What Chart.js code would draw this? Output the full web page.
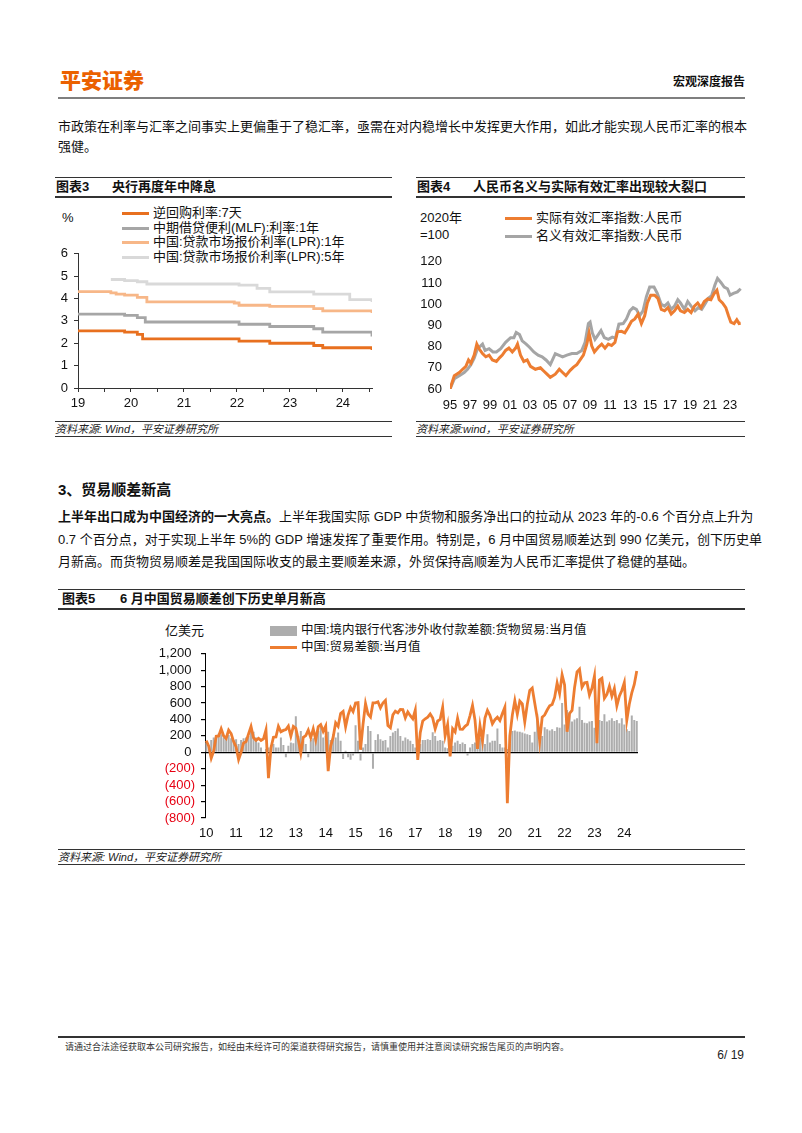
<!DOCTYPE html>
<html lang="zh-CN">
<head>
<meta charset="utf-8">
<title>宏观深度报告</title>
<script src="https://cdn.jsdelivr.net/npm/chart.js@4.4.1/dist/chart.umd.min.js"></script>
<style>
    html, body { margin: 0; padding: 0; background: #fff; }
    body {
        width: 802px; height: 1133px; position: relative; overflow: hidden;
        font-family: "Liberation Sans", Arial, "Noto Sans CJK SC", sans-serif; color: #111;
    }
    .abs { position: absolute; }
    .logo { left: 60px; top: 64px; font-size: 21px; font-weight: 900; color: #EB6100; font-family: "Noto Sans CJK SC", sans-serif; }
    .doctype { right: 57px; top: 72px; font-size: 12px; font-weight: bold; }
    .rule { background: #7f7f7f; height: 2px; }
    .line { left: 58px; width: 687px; font-size: 13px; line-height: 18px; white-space: nowrap; }
    .full { text-align: justify; text-align-last: justify; }
    .h3 { left: 58px; font-size: 15px; font-weight: bold; }
    .title { border-top: 1px solid #333; border-bottom: 2px solid #333; height: 18px; font-size: 13px; font-weight: bold; line-height: 18px; }
    .title span { position: absolute; top: 0; }
    .src { border-top: 1.5px solid #333; border-bottom: 1.5px solid #333; height: 14px; font-size: 11px; font-style: italic; line-height: 14px; color: #222; }
    .unit { font-size: 13px; line-height: 17px; color: #111; }
    .legend { font-size: 12.5px; color: #111; }
    .legend .row { position: relative; height: 14.7px; line-height: 14.7px; white-space: nowrap; }
    .legend .mark { display: inline-block; vertical-align: middle; margin-right: 4px; }
    #reerLegend .row { height: 18px; line-height: 18px; }
    #tradeLegend .row { height: 17px; line-height: 17px; }
    canvas { position: absolute; }
    .foot { left: 65px; top: 1040px; font-size: 9px; color: #333; }
    .page { right: 58px; top: 1048px; font-size: 12px; color: #222; }
</style>
</head>
<body>

<div class="abs logo">平安证券</div>
<div class="abs doctype">宏观深度报告</div>
<div class="abs rule" style="left:58px;top:97px;width:687px;"></div>

<div class="abs line full" style="top:118px;">市政策在利率与汇率之间事实上更偏重于了稳汇率，亟需在对内稳增长中发挥更大作用，如此才能实现人民币汇率的根本</div>
<div class="abs line" style="top:138px;">强健。</div>

<!-- chart 3 -->
<div class="abs title" style="left:55px;top:177px;width:337px;"><span style="left:1px;">图表3</span><span style="left:57px;">央行再度年中降息</span></div>
<div class="abs unit" style="left:62px;top:209px;">%</div>
<div class="abs legend" id="rateLegend" style="left:122px;top:206px;font-size:13px;"></div>
<div class="abs src" style="left:55px;top:421px;width:337px;">资料来源: Wind，平安证券研究所</div>

<!-- chart 4 -->
<div class="abs title" style="left:416px;top:177px;width:329px;"><span style="left:1px;">图表4</span><span style="left:57px;">人民币名义与实际有效汇率出现较大裂口</span></div>
<div class="abs unit" style="left:420px;top:209px;">2020年<br>=100</div>
<div class="abs legend" id="reerLegend" style="left:505px;top:209px;font-size:13px;"></div>
<div class="abs src" style="left:416px;top:421px;width:329px;">资料来源:wind，平安证券研究所</div>

<div class="abs h3" style="top:478px;">3、贸易顺差新高</div>
<div class="abs line full" style="top:508px;"><b>上半年出口成为中国经济的一大亮点。</b>上半年我国实际 GDP 中货物和服务净出口的拉动从 2023 年的-0.6 个百分点上升为</div>
<div class="abs line full" style="top:531px;">0.7 个百分点，对于实现上半年 5%的 GDP 增速发挥了重要作用。特别是，6 月中国贸易顺差达到 990 亿美元，创下历史单</div>
<div class="abs line" style="top:553px;">月新高。而货物贸易顺差是我国国际收支的最主要顺差来源，外贸保持高顺差为人民币汇率提供了稳健的基础。</div>

<!-- chart 5 -->
<div class="abs title" style="left:58px;top:589px;width:687px;"><span style="left:4px;">图表5</span><span style="left:62px;">6 月中国贸易顺差创下历史单月新高</span></div>
<div class="abs unit" style="left:165px;top:622px;">亿美元</div>
<div class="abs legend" id="tradeLegend" style="left:270px;top:622px;font-size:12.5px;"></div>
<div class="abs src" style="left:58px;top:849px;width:687px;">资料来源: Wind，平安证券研究所</div>

<div class="abs rule" style="left:58px;top:1036px;width:687px;background:#333;height:1.5px;"></div>
<div class="abs foot">请通过合法途径获取本公司研究报告，如经由未经许可的渠道获得研究报告，请慎重使用并注意阅读研究报告尾页的声明内容。</div>
<div class="abs page">6/ 19</div>

<canvas id="rateChart" width="330" height="175" style="left:56px;top:240px;"></canvas>
<canvas id="reerChart" width="335" height="172" style="left:415px;top:245px;"></canvas>
<canvas id="tradeChart" width="500" height="205" style="left:150px;top:640px;"></canvas>

<script>
// 图表3: policy rates, change dates (decimal years) and levels
const repoX = [2019.0, 2019.88, 2020.12, 2020.22, 2022.04, 2022.62, 2023.45, 2023.62, 2024.55];
const repoY = [2.55, 2.50, 2.40, 2.20, 2.10, 2.00, 1.90, 1.80, 1.70];
const mlfX = [2019.0, 2019.88, 2020.12, 2020.27, 2022.04, 2022.62, 2023.45, 2023.62, 2024.55];
const mlfY = [3.30, 3.25, 3.15, 2.95, 2.85, 2.75, 2.65, 2.50, 2.30];
const lpr1X = [2019.0, 2019.62, 2019.72, 2019.88, 2020.12, 2020.3, 2021.95, 2022.04, 2022.62, 2023.45, 2023.62, 2024.55];
const lpr1Y = [4.31, 4.25, 4.20, 4.15, 4.05, 3.85, 3.80, 3.70, 3.65, 3.55, 3.45, 3.35];
const lpr5X = [2019.62, 2019.88, 2020.12, 2020.3, 2022.04, 2022.38, 2022.62, 2023.45, 2024.13, 2024.55];
const lpr5Y = [4.85, 4.80, 4.75, 4.65, 4.60, 4.45, 4.30, 4.20, 3.95, 3.85];
const rateTickYears = [2019, 2019.5, 2020, 2020.5, 2021, 2021.5, 2022, 2022.5, 2023, 2023.5, 2024, 2024.5];
const rateTicks = [0, 1, 2, 3, 4, 5, 6];

// 图表4: effective exchange rate indices, 2020 = 100
const realX = [1995.00, 1995.43, 1995.93, 1996.26, 1996.59, 1996.85, 1997.09, 1997.42, 1997.68, 1997.91,
    1998.25, 1998.58, 1998.91, 1999.24, 1999.64, 1999.97, 2000.23, 2000.56, 2000.89, 2001.23,
    2001.56, 2001.75, 2002.05, 2002.38, 2002.72, 2003.05, 2003.54, 2004.04, 2004.37, 2004.70,
    2005.03, 2005.53, 2005.93, 2006.26, 2006.59, 2007.02, 2007.35, 2007.68, 2008.01, 2008.34,
    2008.68, 2008.91, 2009.17, 2009.44, 2009.83, 2010.17, 2010.50, 2010.83, 2011.16, 2011.49,
    2011.75, 2012.15, 2012.48, 2012.81, 2013.15, 2013.48, 2013.81, 2014.14, 2014.47, 2014.74,
    2015.07, 2015.46, 2015.79, 2016.13, 2016.46, 2016.79, 2017.12, 2017.45, 2017.78, 2018.05,
    2018.44, 2018.77, 2019.11, 2019.44, 2019.77, 2020.10, 2020.43, 2020.76, 2021.09, 2021.42,
    2021.69, 2021.92, 2022.25, 2022.58, 2022.85, 2023.08, 2023.41, 2023.68, 2023.91, 2024.07];
const realY = [60.0, 66.3, 67.8, 69.3, 70.7, 73.7, 72.2, 76.0, 81.2, 79.0,
    76.7, 75.2, 76.0, 73.7, 73.0, 74.8, 76.0, 78.2, 79.3, 77.5,
    79.3, 81.2, 76.0, 73.0, 73.7, 70.7, 69.3, 70.0, 68.5, 67.0,
    65.5, 67.0, 69.3, 67.8, 66.3, 68.8, 70.3, 71.5, 73.7, 76.0,
    81.2, 86.4, 80.4, 77.5, 79.7, 81.2, 79.3, 81.2, 80.5, 82.0,
    87.0, 87.2, 86.5, 89.0, 92.0, 93.1, 95.4, 90.9, 94.6, 100.6,
    104.3, 104.3, 102.8, 97.6, 96.9, 98.4, 95.4, 96.9, 99.1, 96.9,
    96.1, 97.6, 96.1, 99.1, 100.6, 98.4, 101.3, 102.5, 102.1, 105.1,
    106.6, 102.1, 100.6, 98.4, 94.6, 91.6, 90.9, 92.7, 90.9, 91.0];
const nominalX = [1995.00, 1995.43, 1995.93, 1996.42, 1996.75, 1997.09, 1997.42, 1997.75, 1998.25, 1998.51,
    1998.91, 1999.30, 1999.64, 2000.07, 2000.56, 2001.06, 2001.39, 2001.62, 2001.95, 2002.22,
    2002.62, 2002.95, 2003.38, 2003.81, 2004.21, 2004.60, 2005.03, 2005.53, 2005.86, 2006.26,
    2006.69, 2007.19, 2007.68, 2008.18, 2008.51, 2008.84, 2009.01, 2009.24, 2009.50, 2009.83,
    2010.10, 2010.43, 2010.83, 2011.23, 2011.55, 2011.89, 2012.32, 2012.65, 2012.98, 2013.31,
    2013.64, 2013.97, 2014.30, 2014.64, 2014.97, 2015.40, 2015.73, 2016.13, 2016.46, 2016.79,
    2017.12, 2017.45, 2017.78, 2018.05, 2018.44, 2018.77, 2019.11, 2019.50, 2019.83, 2020.17,
    2020.50, 2020.83, 2021.16, 2021.49, 2021.75, 2022.09, 2022.42, 2022.75, 2023.01, 2023.34,
    2023.74, 2024.07];
const nominalY = [60.0, 64.8, 66.3, 67.8, 69.3, 71.5, 74.5, 79.0, 81.2, 78.2,
    79.0, 77.5, 77.5, 79.0, 82.0, 84.2, 84.2, 86.7, 85.7, 82.7,
    81.2, 79.7, 77.5, 76.0, 75.2, 73.7, 71.5, 76.7, 76.0, 75.2,
    76.0, 76.7, 76.7, 78.2, 82.0, 90.9, 91.6, 86.4, 83.4, 85.7,
    87.6, 84.2, 83.4, 84.5, 84.0, 90.6, 90.9, 93.1, 96.9, 98.4,
    97.6, 94.6, 96.9, 103.6, 108.1, 108.1, 105.1, 99.9, 99.1, 100.6,
    97.6, 99.1, 102.1, 100.6, 97.6, 101.3, 99.1, 96.9, 98.4, 97.6,
    100.1, 102.8, 104.0, 109.1, 112.2, 110.3, 108.1, 107.3, 104.3, 105.1,
    105.8, 107.3];
const reerTickYears = [1995, 1997, 1999, 2001, 2003, 2005, 2007, 2009, 2011, 2013, 2015, 2017, 2019, 2021, 2023];
const reerTicks = [60, 70, 80, 90, 100, 110, 120];

// 图表5: monthly, 2010-01 .. 2024-06, 亿美元
const tradeStartYear = 2010;
const bankGoodsNet = [
    120, 80, 150, 180, 200, 230, 220, 180, 190, 210, 170, 150,      // 2010
    160, 100, 150, 170, 180, 200, 300, 250, 180, 120, 60, -20,      // 2011
    40, 60, 90, 100, 60, 60, 180, 90, -60, 80, 120, 110,            // 2012
    440, 200, 260, 140, 100, -60, 150, 170, 160, 260, 340, 180,     // 2013
    200, 250, 150, 220, 180, 240, 140, -80, 20, -60, -90, -40,      // 2014
    330, 140, -100, 60, 100, 320, 260, -200, 150, 220, 160, 140,    // 2015
    150, 60, 200, 240, 260, 290, 200, 140, 180, 160, 140, 100,      // 2016
    60, 60, 100, 150, 150, 160, 150, 245, 200, 140, 150, 140,       // 2017
    60, 50, 40, 80, 120, 140, 100, 120, 100, -40, 60, 100,          // 2018
    120, 60, 180, 160, 100, 220, 120, 140, 140, 290, 100, 60,       // 2019
    60, 40, 100, 260, 265, 255, 250, 240, 230, 220, 210, 120,       // 2020
    250, 470, 240, 200, 305, 280, 265, 280, 260, 305, 300, 600,     // 2021
    340, 515, 475, 375, 400, 415, 555, 395, 360, 355, 375, 380,     // 2022
    300, 355, 395, 380, 465, 375, 390, 415, 380, 395, 355, 415,     // 2023
    340, 280, 260, 450, 395, 380                                    // 2024
];
const tradeBalance = [
    142, 76, -72, 17, 195, 200, 287, 200, 169, 271, 229, 131,       // 2010
    65, -89, 1, 114, 130, 223, 315, 178, 145, 170, 145, 165,        // 2011
    273, -315, 54, 184, 187, 317, 251, 267, 277, 320, 196, 316,     // 2012
    292, 152, -9, 182, 204, 271, 178, 285, 152, 311, 338, 256,      // 2013
    319, -230, 77, 185, 359, 316, 473, 498, 310, 454, 545, 496,     // 2014
    600, 606, 31, 341, 595, 465, 430, 602, 603, 616, 541, 601,      // 2015
    633, 326, 299, 456, 500, 481, 523, 521, 420, 491, 446, 408,     // 2016
    514, -92, 239, 381, 408, 428, 467, 419, 285, 382, 402, 547,     // 2017
    203, 337, -50, 288, 249, 416, 281, 279, 317, 340, 447, 571,     // 2018
    392, 41, 326, 138, 417, 510, 451, 348, 397, 428, 387, 472,      // 2019
    550, -620, 199, 453, 629, 464, 623, 589, 370, 584, 754, 782,    // 2020
    600, 420, 138, 429, 455, 515, 566, 583, 668, 845, 717, 945,     // 2021
    820, 250, 474, 511, 788, 979, 1013, 794, 847, 852, 698, 780,    // 2022
    930, 110, 882, 902, 658, 706, 806, 684, 777, 565, 684, 753,     // 2023
    850, 390, 586, 724, 826, 990                                    // 2024
];

const tradeMonths = tradeBalance.map((v, i) => {
    const y = tradeStartYear + Math.floor(i / 12);
    const m = (i % 12) + 1;
    return y + '-' + String(m).padStart(2, '0');
});

function pts(xs, ys) {
    return xs.map((x, i) => ({ x: x, y: ys[i] }));
}

function buildLegend(id, items) {
    const box = document.getElementById(id);
    items.forEach(item => {
        const row = document.createElement('div');
        row.className = 'row';
        const mark = document.createElement('span');
        mark.className = 'mark';
        mark.style.width = '27px';
        mark.style.height = item.box ? '10px' : '3px';
        mark.style.background = item.color;
        row.appendChild(mark);
        row.appendChild(document.createTextNode(item.label));
        box.appendChild(row);
    });
}

Chart.defaults.font.family = '"Liberation Sans", Arial, "Noto Sans CJK SC", sans-serif';
Chart.defaults.font.size = 13;
Chart.defaults.color = '#111';

document.addEventListener('DOMContentLoaded', function() {
    // chart 3
    const rateSets = [
        { label: '逆回购利率:7天', data: pts(repoX, repoY), borderColor: '#E8701F' },
        { label: '中期借贷便利(MLF):利率:1年', data: pts(mlfX, mlfY), borderColor: '#A6A6A6' },
        { label: '中国:贷款市场报价利率(LPR):1年', data: pts(lpr1X, lpr1Y), borderColor: '#F7B788' },
        { label: '中国:贷款市场报价利率(LPR):5年', data: pts(lpr5X, lpr5Y), borderColor: '#D9D9D9' }
    ];
    new Chart(document.getElementById('rateChart'), {
        type: 'line',
        data: { datasets: rateSets.map(d => Object.assign({ borderWidth: 2.8, stepped: true, pointRadius: 0, fill: false }, d)) },
        options: {
            responsive: false,
            animation: false,
            layout: { autoPadding: false, padding: { top: 2, right: 14, left: 0, bottom: 0 } },
            plugins: { legend: { display: false }, tooltip: { enabled: false } },
            scales: {
                x: {
                    type: 'linear', min: 2019, max: 2024.55,
                    afterBuildTicks: s => { s.ticks = rateTickYears.map(v => ({ value: v })); },
                    afterFit: s => { s.height = 27; },
                    grid: { drawOnChartArea: false, color: '#333', tickLength: 4 },
                    border: { color: '#333' },
                    ticks: {
                        autoSkip: false, maxRotation: 0, padding: 4, color: '#111',
                        callback: v => Number.isInteger(v) ? String(v - 2000) : ''
                    }
                },
                y: {
                    min: 0, max: 6,
                    afterBuildTicks: s => { s.ticks = rateTicks.map(v => ({ value: v })); },
                    afterFit: s => { s.width = 22; },
                    grid: { drawOnChartArea: false, color: '#333', tickLength: 4 },
                    border: { color: '#333' },
                    ticks: { padding: 6, color: '#111', autoSkip: false }
                }
            }
        }
    });
    buildLegend('rateLegend', rateSets.map(d => ({ label: d.label, color: d.borderColor })));

    // chart 4
    const reerSets = [
        { label: '实际有效汇率指数:人民币', data: pts(realX, realY), borderColor: '#ED7D31', order: 0 },
        { label: '名义有效汇率指数:人民币', data: pts(nominalX, nominalY), borderColor: '#A5A5A5', order: 1 }
    ];
    new Chart(document.getElementById('reerChart'), {
        type: 'line',
        data: { datasets: reerSets.map(d => Object.assign({ borderWidth: 3, pointRadius: 0, tension: 0, fill: false }, d)) },
        options: {
            responsive: false,
            animation: false,
            layout: { autoPadding: false, padding: { top: 3, right: 8, left: 0, bottom: 0 } },
            plugins: { legend: { display: false }, tooltip: { enabled: false } },
            scales: {
                x: {
                    type: 'linear', min: 1995, max: 2024.2,
                    afterBuildTicks: s => { s.ticks = reerTickYears.map(v => ({ value: v })); },
                    afterFit: s => { s.height = 28; },
                    grid: { display: false, drawTicks: false },
                    border: { display: false },
                    ticks: {
                        autoSkip: false, maxRotation: 0, padding: 9, color: '#111',
                        callback: v => String(v % 100).padStart(2, '0')
                    }
                },
                y: {
                    min: 60, max: 120.5,
                    afterBuildTicks: s => { s.ticks = reerTicks.map(v => ({ value: v })); },
                    afterFit: s => { s.width = 35; },
                    grid: { display: false, drawTicks: false },
                    border: { display: false },
                    ticks: { padding: 8, color: '#111', autoSkip: false, z: 1, callback: v => String(v) }
                }
            }
        }
    });
    buildLegend('reerLegend', reerSets.map(d => ({ label: d.label, color: d.borderColor })));

    // chart 5
    const tradeSets = [
        {
            type: 'bar', label: '中国:境内银行代客涉外收付款差额:货物贸易:当月值', data: bankGoodsNet,
            backgroundColor: '#ADADAD', barPercentage: 1, categoryPercentage: 0.8, order: 1
        },
        {
            type: 'line', label: '中国:贸易差额:当月值', data: tradeBalance,
            borderColor: '#ED7D31', borderWidth: 2.8, pointRadius: 0, tension: 0, fill: false, order: 0
        }
    ];
    new Chart(document.getElementById('tradeChart'), {
        type: 'bar',
        data: { labels: tradeMonths, datasets: tradeSets },
        options: {
            responsive: false,
            animation: false,
            layout: { padding: { top: 8, right: 12, left: 0, bottom: 0 } },
            plugins: { legend: { display: false }, tooltip: { enabled: false } },
            scales: {
                x: {
                    afterFit: s => { s.height = 27; },
                    grid: { display: false, drawTicks: false },
                    border: { display: false },
                    ticks: {
                        autoSkip: false, maxRotation: 0, minRotation: 0, padding: 8, color: '#111',
                        callback: (v, i) => tradeMonths[i].endsWith('-01') ? tradeMonths[i].slice(2, 4) : ''
                    }
                },
                y: {
                    min: -800, max: 1200,
                    afterFit: s => { s.width = 55; },
                    grid: {
                        color: ctx => (ctx.tick && ctx.tick.value === 0) ? '#000' : 'rgba(0,0,0,0)',
                        lineWidth: 1.2, tickColor: '#000', tickLength: 4
                    },
                    border: { color: '#000' },
                    ticks: {
                        stepSize: 200, padding: 6, autoSkip: false,
                        color: ctx => (ctx.tick && ctx.tick.value < 0) ? '#E60012' : '#111',
                        callback: v => v < 0 ? '(' + Math.abs(v).toLocaleString('en-US') + ')' : v.toLocaleString('en-US') + ' '
                    }
                }
            }
        }
    });
    buildLegend('tradeLegend', [
        { label: tradeSets[0].label, color: '#ADADAD', box: true },
        { label: tradeSets[1].label, color: '#ED7D31' }
    ]);
});
</script>
</body>
</html>
